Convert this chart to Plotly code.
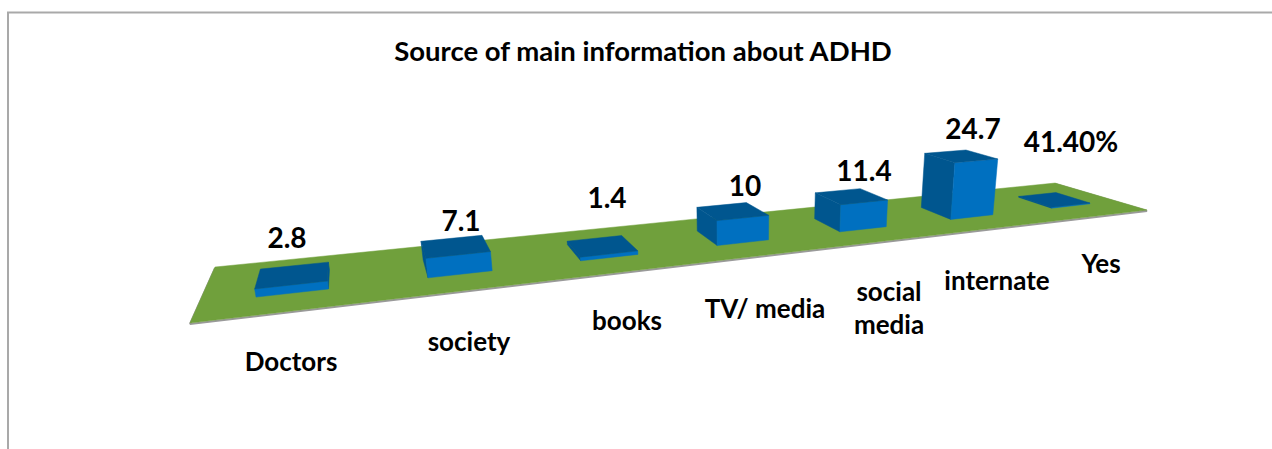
import plotly.graph_objects as go

# ---- data ----
categories = ["Doctors", "society", "books", "TV/ media", "social<br>media", "internate", "Yes"]
values = [2.8, 7.1, 1.4, 10, 11.4, 24.7, 0.414]
value_labels = ["2.8", "7.1", "1.4", "10", "11.4", "24.7", "41.40%"]
title_text = "Source of main information about ADHD"

# ---- text layout (page pixels) ----
value_label_x = [287, 461, 607, 745, 864, 973, 1071]
value_label_y = [241, 224, 201, 189, 174, 132, 145]
cat_label_x = [291, 469, 627, 765, 889, 997, 1101]
cat_label_y = [364, 344, 323, 311, 311, 283, 266]

# ---- camera: homogeneous projection of (u along categories, v depth, z value) ----
CAM_U = (1505.2, -12.6, 0.4779)
CAM_V = (66.2, -4.8, 0.1916)
CAM_Z = (-0.00112 * 741, -0.00112 * 3080, -0.00112)
CAM_O = (190.0, 323.0, 1.0)

BAR_HALF_WIDTH = 0.029
BAR_SHIFT = 0.0015
BAR_DEPTH = (0.31, 0.69)

GREEN = "#70A03C"
EDGE = "#9a9a9a"
FRONT = "#0070C0"
TOP = "#00568F"
SIDE = "#00568F"


def project(u, v, z=0.0):
    h = [CAM_U[i] * u + CAM_V[i] * v + CAM_Z[i] * z + CAM_O[i] for i in range(3)]
    return h[0] / h[2], h[1] / h[2]


def polygon(points, color, name):
    xs, ys = zip(*points)
    return go.Scatter(
        x=list(xs) + [xs[0]], y=list(ys) + [ys[0]], mode="lines", fill="toself",
        fillcolor=color, line=dict(color=color, width=0.5), name=name,
        hoverinfo="skip", showlegend=False,
    )


def signed_area(points):
    total = 0.0
    for i, (x0, y0) in enumerate(points):
        x1, y1 = points[(i + 1) % len(points)]
        total += x0 * y1 - x1 * y0
    return total


fig = go.Figure()

# frame of the picture
fig.add_trace(go.Scatter(x=[1290, 8, 8], y=[12.5, 12.5, 470], mode="lines",
                         line=dict(color="#a9a9a9", width=2), hoverinfo="skip", showlegend=False))

# floor
floor = [project(0, 0), project(1, 0), project(1, 1), project(0, 1)]
edge_pts = [floor[3], floor[0], floor[1], floor[2]]
fig.add_trace(go.Scatter(x=[p[0] for p in edge_pts], y=[p[1] + 1 for p in edge_pts], mode="lines",
                         line=dict(color=EDGE, width=2), hoverinfo="skip", showlegend=False))
fig.add_trace(polygon(floor, GREEN, "floor"))

# bars
n = len(categories)
for i, (cat, val) in enumerate(zip(categories, values)):
    uc = (i + 0.5) / n + BAR_SHIFT
    u0, u1 = uc - BAR_HALF_WIDTH, uc + BAR_HALF_WIDTH
    v0, v1 = BAR_DEPTH
    name = cat.replace("<br>", " ")
    faces = [
        ([project(u0, v1), project(u0, v0), project(u0, v0, val), project(u0, v1, val)], SIDE),
        ([project(u1, v0), project(u1, v1), project(u1, v1, val), project(u1, v0, val)], SIDE),
        ([project(u0, v0), project(u1, v0), project(u1, v0, val), project(u0, v0, val)], FRONT),
        ([project(u0, v0, val), project(u1, v0, val), project(u1, v1, val), project(u0, v1, val)], TOP),
    ]
    for pts, color in faces:
        if signed_area(pts) < 0:
            fig.add_trace(polygon(pts, color, name))

FONT = dict(family="Lato, Carlito, sans-serif", color="#000000", weight=700)
fig.add_trace(go.Scatter(x=value_label_x, y=value_label_y, mode="text", text=value_labels,
                         textfont=dict(size=28, **FONT), hoverinfo="skip", showlegend=False))
fig.add_trace(go.Scatter(x=cat_label_x, y=cat_label_y, mode="text", text=categories,
                         textfont=dict(size=26, **FONT), hoverinfo="skip", showlegend=False))
fig.add_trace(go.Scatter(x=[643], y=[54], mode="text", text=[title_text],
                         textfont=dict(size=27.5, **FONT), hoverinfo="skip", showlegend=False))

fig.update_layout(
    width=1272, height=449, margin=dict(l=0, r=0, t=0, b=0),
    paper_bgcolor="white", plot_bgcolor="white", showlegend=False,
    xaxis=dict(range=[0, 1272], visible=False, fixedrange=True),
    yaxis=dict(range=[449, 0], visible=False, fixedrange=True),
)
fig.write_html("out.html", config={"displayModeBar": False},
               post_script="document.body.style.margin='0';document.documentElement.style.overflow='hidden';")
